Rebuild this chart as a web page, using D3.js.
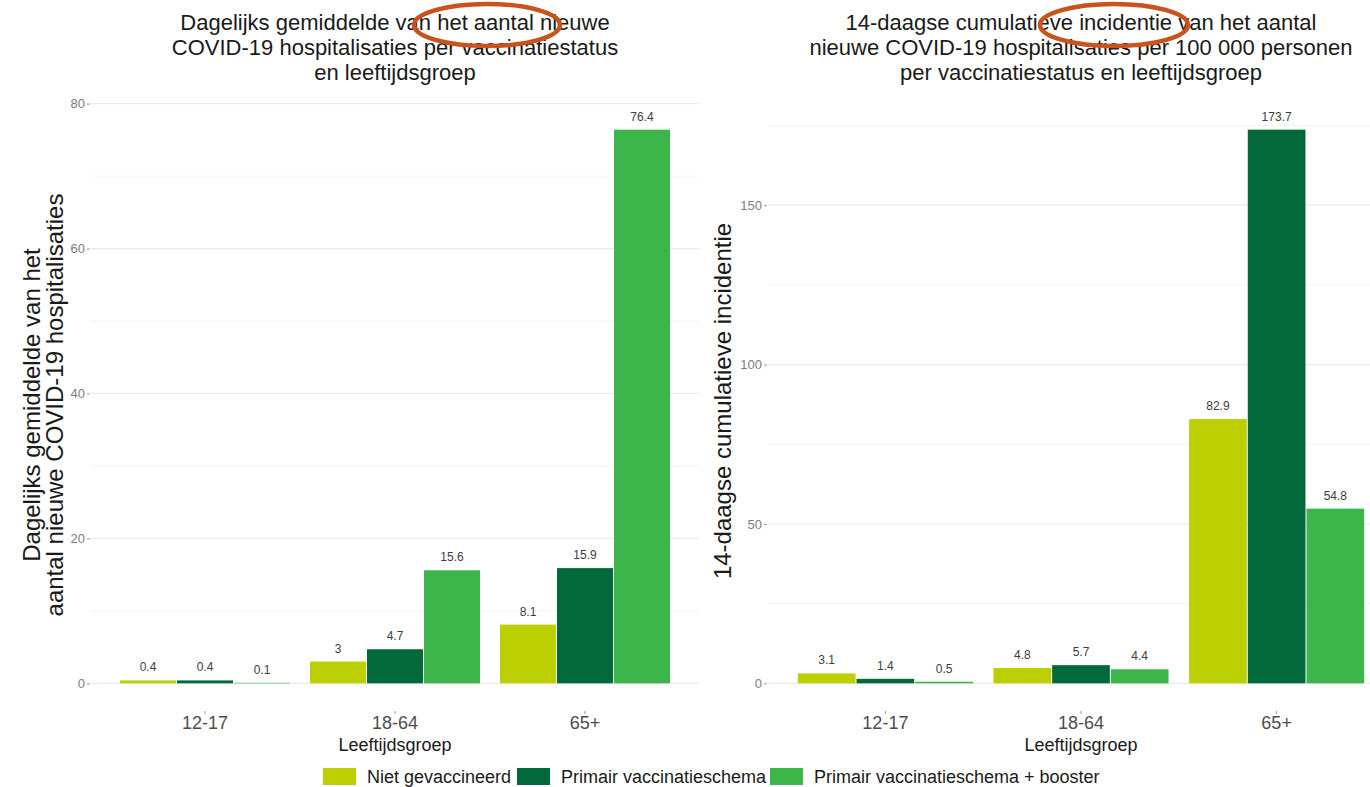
<!DOCTYPE html>
<html>
<head>
<meta charset="utf-8">
<script src="https://cdn.jsdelivr.net/npm/d3@7"></script>
<style>
  body { margin: 0; background: #ffffff; }
  svg { display: block; font-family: "Liberation Sans", Arial, Helvetica, sans-serif; }
</style>
</head>
<body>
<svg id="chart" width="1370" height="787"></svg>
<script>
// ---- Data ----
const ageGroups = ["12-17", "18-64", "65+"];
const statuses = ["Niet gevaccineerd", "Primair vaccinatieschema", "Primair vaccinatieschema + booster"];
const statusColors = ["#bccf02", "#01693a", "#3cb64b"];

// Daily average of new COVID-19 hospitalisations
const dailyNietGevaccineerd = [0.4, 3, 8.1];
const dailyPrimair = [0.4, 4.7, 15.9];
const dailyBooster = [0.1, 15.6, 76.4];

// 14-day cumulative incidence per 100 000 persons
const incidenceNietGevaccineerd = [3.1, 4.8, 82.9];
const incidencePrimair = [1.4, 5.7, 173.7];
const incidenceBooster = [0.5, 4.4, 54.8];

const dailyMajorTicks = [0, 20, 40, 60, 80];
const dailyMinorTicks = [10, 30, 50, 70];
const incidenceMajorTicks = [0, 50, 100, 150];
const incidenceMinorTicks = [25, 75, 125, 175];

const dailyTitle = ["Dagelijks gemiddelde van het aantal nieuwe",
                    "COVID-19 hospitalisaties per vaccinatiestatus",
                    "en leeftijdsgroep"];
const incidenceTitle = ["14-daagse cumulatieve incidentie van het aantal",
                        "nieuwe COVID-19 hospitalisaties per 100 000 personen",
                        "per vaccinatiestatus en leeftijdsgroep"];
const dailyYTitle = ["Dagelijks gemiddelde van het", "aantal nieuwe COVID-19 hospitalisaties"];
const incidenceYTitle = ["14-daagse cumulatieve incidentie"];
const xTitle = "Leeftijdsgroep";

// ---- Layout ----
const svg = d3.select("#chart");
const panelTop = 102, panelBottom = 711;

function tableFrom(seriesList) {
  return ageGroups.map((g, i) => ({
    group: g,
    values: statuses.map((s, j) => ({ status: s, idx: j, value: seriesList[j][i] }))
  }));
}

function drawPanel(opts) {
  const { x0, x1, series, majorTicks, minorTicks, title, yTitle, yTitleX, yTitleY, titleX, ellipse } = opts;
  const data = tableFrom(series);
  const maxVal = d3.max(series.flat());
  const ext = maxVal * 0.05;

  const y = d3.scaleLinear().domain([-ext, maxVal + ext]).range([panelBottom, panelTop]);
  const x = d3.scaleBand().domain(ageGroups).range([x0, x1]).paddingInner(0.1).paddingOuter(0.15);
  const xs = d3.scaleBand().domain(statuses).range([0, x.bandwidth()]);
  const color = d3.scaleOrdinal().domain(statuses).range(statusColors);

  const g = svg.append("g");

  // grid
  g.selectAll(".minor").data(minorTicks).join("line")
    .attr("x1", x0).attr("x2", x1)
    .attr("y1", d => y(d)).attr("y2", d => y(d))
    .attr("stroke", "#f4f4f4").attr("stroke-width", 1);
  g.selectAll(".major").data(majorTicks).join("line")
    .attr("x1", x0).attr("x2", x1)
    .attr("y1", d => y(d)).attr("y2", d => y(d))
    .attr("stroke", "#ebebeb").attr("stroke-width", 1.2);

  // y axis
  const yAxis = g.append("g").attr("transform", `translate(${x0 - 1},0)`)
    .call(d3.axisLeft(y).tickValues(majorTicks).tickSize(3).tickPadding(2));
  yAxis.select(".domain").remove();
  yAxis.selectAll("line").attr("stroke", "#9a9a9a");
  yAxis.selectAll("text").attr("fill", "#7d7d7d").style("font-size", "13px")
    .style("font-family", "Liberation Sans, Arial, sans-serif");

  // x axis
  const xAxis = g.append("g").attr("transform", `translate(0,${panelBottom})`)
    .call(d3.axisBottom(x).tickSize(3).tickPadding(2));
  xAxis.select(".domain").remove();
  xAxis.selectAll("line").attr("stroke", "#9a9a9a");
  xAxis.selectAll("text").attr("fill", "#4d4d4d").style("font-size", "18px")
    .style("font-family", "Liberation Sans, Arial, sans-serif");

  // bars (a 1px white gap between neighbouring bars)
  const groups = g.selectAll(".grp").data(data).join("g")
    .attr("transform", d => `translate(${x(d.group)},0)`);
  groups.selectAll("rect").data(d => d.values).join("rect")
    .attr("x", d => xs(d.status) + 0.5)
    .attr("width", xs.bandwidth() - 1)
    .attr("y", d => y(d.value))
    .attr("height", d => Math.max(y(0) - y(d.value), 1))
    .attr("fill", d => color(d.status))
    .attr("fill-opacity", d => (y(0) - y(d.value)) < 1.5 ? 0.55 : 1);
  groups.selectAll("text").data(d => d.values).join("text")
    .attr("x", d => xs(d.status) + xs.bandwidth() / 2)
    .attr("y", d => y(d.value) - 9)
    .attr("text-anchor", "middle")
    .attr("fill", "#3d3d3d")
    .style("font-size", "12px")
    .text(d => String(d.value));

  // titles
  svg.append("text").attr("text-anchor", "middle").attr("fill", "#1a1a1a")
    .style("font-size", "22px")
    .selectAll("tspan").data(title).join("tspan")
    .attr("x", titleX).attr("y", (d, i) => 30 + i * 25).text(d => d);

  // y title
  const yt = svg.append("text").attr("text-anchor", "middle").attr("fill", "#1a1a1a")
    .style("font-size", "24px")
    .attr("transform", `translate(${yTitleX},${yTitleY}) rotate(-90)`);
  yt.selectAll("tspan").data(yTitle).join("tspan")
    .attr("x", 0).attr("y", (d, i) => i * 23).text(d => d);

  // x title
  svg.append("text").attr("x", (x0 + x1) / 2).attr("y", 751)
    .attr("text-anchor", "middle").attr("fill", "#1a1a1a")
    .style("font-size", "18px").text(xTitle);

  // highlight ring over the title
  svg.append("ellipse")
    .attr("cx", ellipse[0]).attr("cy", ellipse[1])
    .attr("rx", ellipse[2]).attr("ry", ellipse[3])
    .attr("fill", "none").attr("stroke", "#c9521d").attr("stroke-width", 4.5);
}

drawPanel({
  x0: 91, x1: 699,
  series: [dailyNietGevaccineerd, dailyPrimair, dailyBooster],
  majorTicks: dailyMajorTicks, minorTicks: dailyMinorTicks,
  title: dailyTitle, titleX: 395,
  yTitle: dailyYTitle, yTitleX: 40, yTitleY: 405,
  ellipse: [487, 25, 73, 21]
});

drawPanel({
  x0: 768, x1: 1394,
  series: [incidenceNietGevaccineerd, incidencePrimair, incidenceBooster],
  majorTicks: incidenceMajorTicks, minorTicks: incidenceMinorTicks,
  title: incidenceTitle, titleX: 1081,
  yTitle: incidenceYTitle, yTitleX: 731, yTitleY: 401,
  ellipse: [1114, 25, 74, 21]
});

// ---- Legend ----
const legend = svg.append("g").attr("transform", "translate(0,768)");
const legendX = [323, 517, 770];
const items = legend.selectAll("g").data(statuses).join("g")
  .attr("transform", (d, i) => `translate(${legendX[i]},0)`);
items.append("rect").attr("width", 33).attr("height", 17)
  .attr("fill", (d, i) => statusColors[i]);
items.append("text").attr("x", 44).attr("y", 15)
  .attr("fill", "#1a1a1a").style("font-size", "18px").text(d => d);
</script>
</body>
</html>
